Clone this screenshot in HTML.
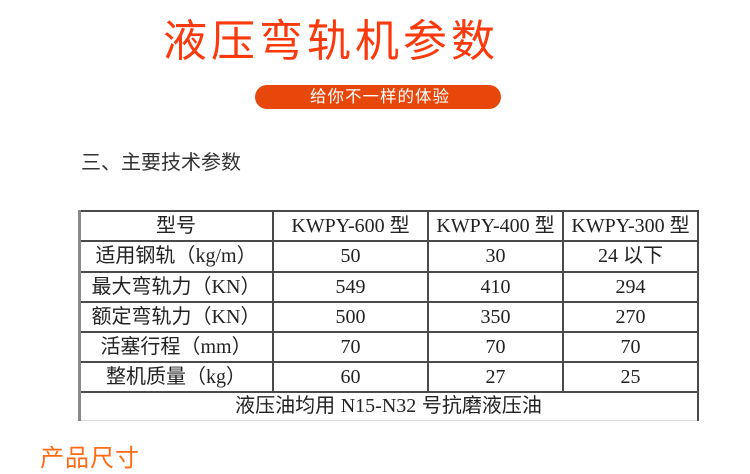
<!DOCTYPE html>
<html>
<head>
<meta charset="utf-8">
<style>
  html,body{margin:0;padding:0;background:#fff;}
  body{width:750px;height:450px;position:relative;overflow:hidden;
    font-family:"Liberation Sans","Noto Sans CJK SC",sans-serif;}
  .abs{position:absolute;}
  .title{left:163px;top:19px;font-size:44px;line-height:46px;letter-spacing:4px;color:#fa3a0c;white-space:nowrap;
    font-family:"Liberation Sans","Noto Sans CJK SC",sans-serif;}
  .pill{left:255px;top:85px;width:246px;height:24px;border-radius:12px;background:#e8470c;color:#fff;
    font-size:16.5px;line-height:24px;text-align:center;letter-spacing:1px;text-indent:4px;white-space:nowrap;}
  .sec{left:81px;top:150px;font-size:20px;line-height:26px;color:#333;white-space:nowrap;}
  .hl{position:absolute;height:1.5px;background:#4a4a4a;left:79px;width:620px;}
  .vl{position:absolute;width:1.5px;background:#4a4a4a;}
  .cell{position:absolute;text-align:center;white-space:nowrap;color:#222;font-size:20px;
    font-family:"Liberation Serif","Noto Sans CJK SC",serif;}
  .cj{font-family:"Liberation Sans","Noto Sans CJK SC",sans-serif;}
  .bottom{left:40px;top:444px;font-size:24px;line-height:30px;color:#ff6a13;letter-spacing:1px;white-space:nowrap;}
</style>
</head>
<body>
<div class="abs title">液压弯轨机参数</div>
<div class="abs pill">给你不一样的体验</div>
<div class="abs sec">三、主要技术参数</div>

<!-- table lines -->
<div class="hl" style="top:210px;"></div>
<div class="hl" style="top:240px;"></div>
<div class="hl" style="top:271px;"></div>
<div class="hl" style="top:301px;"></div>
<div class="hl" style="top:331px;"></div>
<div class="hl" style="top:361px;"></div>
<div class="hl" style="top:391px;"></div>
<div class="hl" style="top:420px;background:#dcdcdc;height:1px;"></div>
<div class="vl" style="left:78px;top:210px;height:211px;width:2.5px;background:#8a8a8a;"></div>
<div class="vl" style="left:272px;top:210px;height:182px;"></div>
<div class="vl" style="left:427px;top:210px;height:182px;"></div>
<div class="vl" style="left:562px;top:210px;height:182px;"></div>
<div class="vl" style="left:697px;top:210px;height:211px;"></div>

<!-- header row -->
<div class="cell cj" style="left:80px;width:192px;top:211px;line-height:30px;">型号</div>
<div class="cell" style="left:274px;width:153px;top:211px;line-height:30px;">KWPY-600 <span class="cj">型</span></div>
<div class="cell" style="left:429px;width:133px;top:211px;line-height:30px;">KWPY-400 <span class="cj">型</span></div>
<div class="cell" style="left:564px;width:133px;top:211px;line-height:30px;">KWPY-300 <span class="cj">型</span></div>

<!-- row 1 -->
<div class="cell cj" style="left:80px;width:192px;top:241px;line-height:30px;">适用钢轨（<span style="font-family:'Liberation Serif',serif;">kg/m</span>）</div>
<div class="cell" style="left:274px;width:153px;top:241px;line-height:30px;">50</div>
<div class="cell" style="left:429px;width:133px;top:241px;line-height:30px;">30</div>
<div class="cell" style="left:564px;width:133px;top:241px;line-height:30px;">24 <span class="cj">以下</span></div>

<!-- row 2 -->
<div class="cell cj" style="left:80px;width:192px;top:272px;line-height:30px;">最大弯轨力（<span style="font-family:'Liberation Serif',serif;">KN</span>）</div>
<div class="cell" style="left:274px;width:153px;top:272px;line-height:30px;">549</div>
<div class="cell" style="left:429px;width:133px;top:272px;line-height:30px;">410</div>
<div class="cell" style="left:564px;width:133px;top:272px;line-height:30px;">294</div>

<!-- row 3 -->
<div class="cell cj" style="left:80px;width:192px;top:302px;line-height:30px;">额定弯轨力（<span style="font-family:'Liberation Serif',serif;">KN</span>）</div>
<div class="cell" style="left:274px;width:153px;top:302px;line-height:30px;">500</div>
<div class="cell" style="left:429px;width:133px;top:302px;line-height:30px;">350</div>
<div class="cell" style="left:564px;width:133px;top:302px;line-height:30px;">270</div>

<!-- row 4 -->
<div class="cell cj" style="left:80px;width:192px;top:332px;line-height:30px;">活塞行程（<span style="font-family:'Liberation Serif',serif;">mm</span>）</div>
<div class="cell" style="left:274px;width:153px;top:332px;line-height:30px;">70</div>
<div class="cell" style="left:429px;width:133px;top:332px;line-height:30px;">70</div>
<div class="cell" style="left:564px;width:133px;top:332px;line-height:30px;">70</div>

<!-- row 5 -->
<div class="cell cj" style="left:80px;width:192px;top:362px;line-height:30px;">整机质量（<span style="font-family:'Liberation Serif',serif;">kg</span>）</div>
<div class="cell" style="left:274px;width:153px;top:362px;line-height:30px;">60</div>
<div class="cell" style="left:429px;width:133px;top:362px;line-height:30px;">27</div>
<div class="cell" style="left:564px;width:133px;top:362px;line-height:30px;">25</div>

<!-- merged row -->
<div class="cell cj" style="left:80px;width:617px;top:392px;line-height:29px;">液压油均用 <span style="font-family:'Liberation Serif',serif;">N15-N32</span> 号抗磨液压油</div>

<div class="abs bottom">产品尺寸</div>
</body>
</html>
